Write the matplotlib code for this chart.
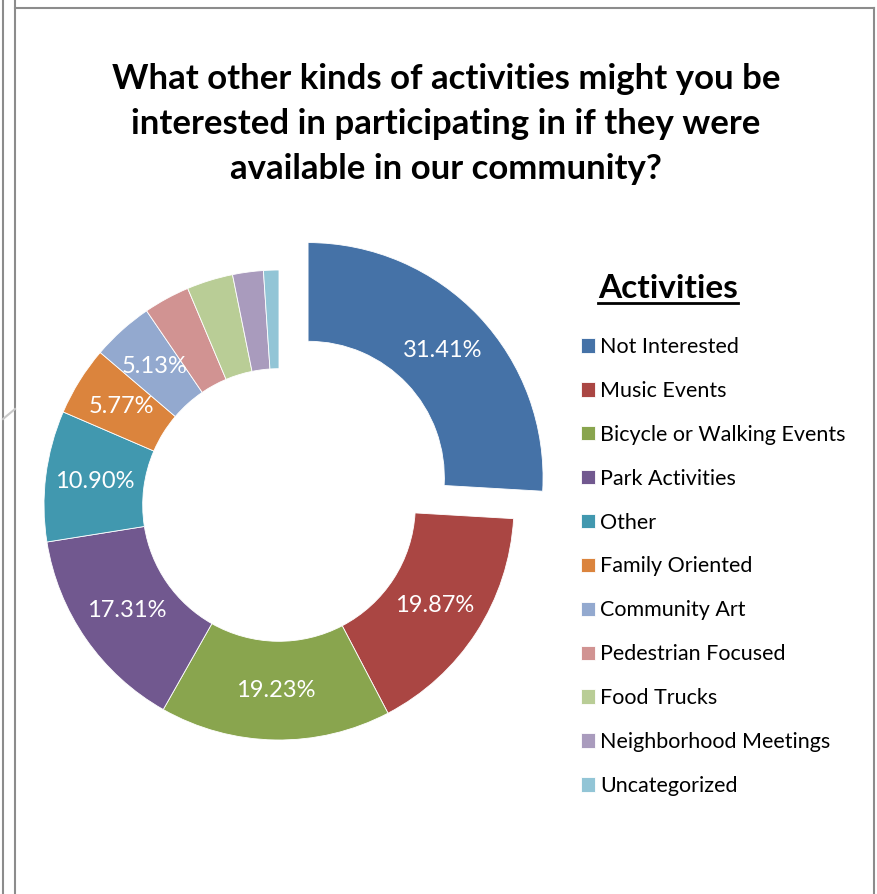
import matplotlib.pyplot as plt
from matplotlib.lines import Line2D
import numpy as np

# Survey answers (share of respondents, multiple answers allowed)
categories = [
    "Not Interested", "Music Events", "Bicycle or Walking Events",
    "Park Activities", "Other", "Family Oriented", "Community Art",
    "Pedestrian Focused", "Food Trucks", "Neighborhood Meetings",
    "Uncategorized",
]
percents = [31.41, 19.87, 19.23, 17.31, 10.90, 5.77, 5.13, 3.85, 3.85, 2.56, 1.28]
colors = [
    "#4572A7", "#AA4643", "#89A54E", "#71588F", "#4198AF", "#DB843D",
    "#93A9CF", "#D19392", "#B9CD96", "#A99BBD", "#92C5D6",
]
labeled = 7  # only the larger slices carry a value label

FONT = "Lato"
W, H = 878, 894


def fy(y):
    # pixel row from the top -> figure fraction
    return 1 - y / H


fig = plt.figure(figsize=(W / 100, H / 100), dpi=100)

# chart frame
for xs, ys, c in [
    ([15, 15], [0, 894], "#8c8c8c"),
    ([15, 874], [8, 8], "#8c8c8c"),
    ([874, 874], [8, 894], "#8c8c8c"),
    ([3, 3], [0, 894], "#8c8c8c"),
    ([3, 15], [419, 409], "#c8c8c8"),
]:
    fig.add_artist(Line2D(np.array(xs) / W, [fy(v) for v in ys],
                          color=c, lw=1.5, transform=fig.transFigure))

fig.text(446 / W, fy(124),
         "What other kinds of activities might you be\n"
         "interested in participating in if they were\n"
         "available in our community?",
         ha="center", va="center", fontsize=25, fontweight="bold",
         family=FONT, linespacing=1.5)

# donut: radius 235 px, centre at (279, 505) px from top-left
r_px = 235
cx, cy = 279, 505
left, right, top, bottom = 30, 560, 230, 760
ax = fig.add_axes([left / W, fy(bottom), (right - left) / W, (bottom - top) / H])

explode = [0.17] + [0] * (len(percents) - 1)
wedges, _ = ax.pie(percents, colors=colors, startangle=90, counterclock=False,
                   explode=explode, radius=1.0,
                   wedgeprops=dict(width=0.42, edgecolor="white", linewidth=0.6))
ax.set_xlim((left - cx) / r_px, (right - cx) / r_px)
ax.set_ylim(-(bottom - cy) / r_px, (cy - top) / r_px)
ax.set_aspect("equal")
ax.axis("off")

for w, p in zip(wedges[:labeled], percents[:labeled]):
    ang = np.deg2rad((w.theta1 + w.theta2) / 2)
    x0, y0 = w.center
    rr = 0.79
    ax.text(x0 + rr * np.cos(ang), y0 + rr * np.sin(ang), f"{p:.2f}%",
            ha="center", va="center", color="white", fontsize=17, family=FONT)

# legend title, underlined
title = fig.text(598 / W, fy(288), "Activities", ha="left", va="center",
                 fontsize=24, fontweight="bold", family=FONT)
fig.canvas.draw()
bb = title.get_window_extent().transformed(fig.transFigure.inverted())
fig.add_artist(Line2D([bb.x0, bb.x1], [fy(303), fy(303)],
                      color="black", lw=2, transform=fig.transFigure))

leg = fig.legend(wedges, categories, loc="upper left",
                 bbox_to_anchor=(581 / W, fy(337)), frameon=False,
                 prop=dict(family=FONT, size=15.5), handlelength=0.65,
                 handleheight=0.65, handletextpad=0.25, labelspacing=1.11,
                 borderaxespad=0, borderpad=0)

fig.savefig("out.png", dpi=100)
